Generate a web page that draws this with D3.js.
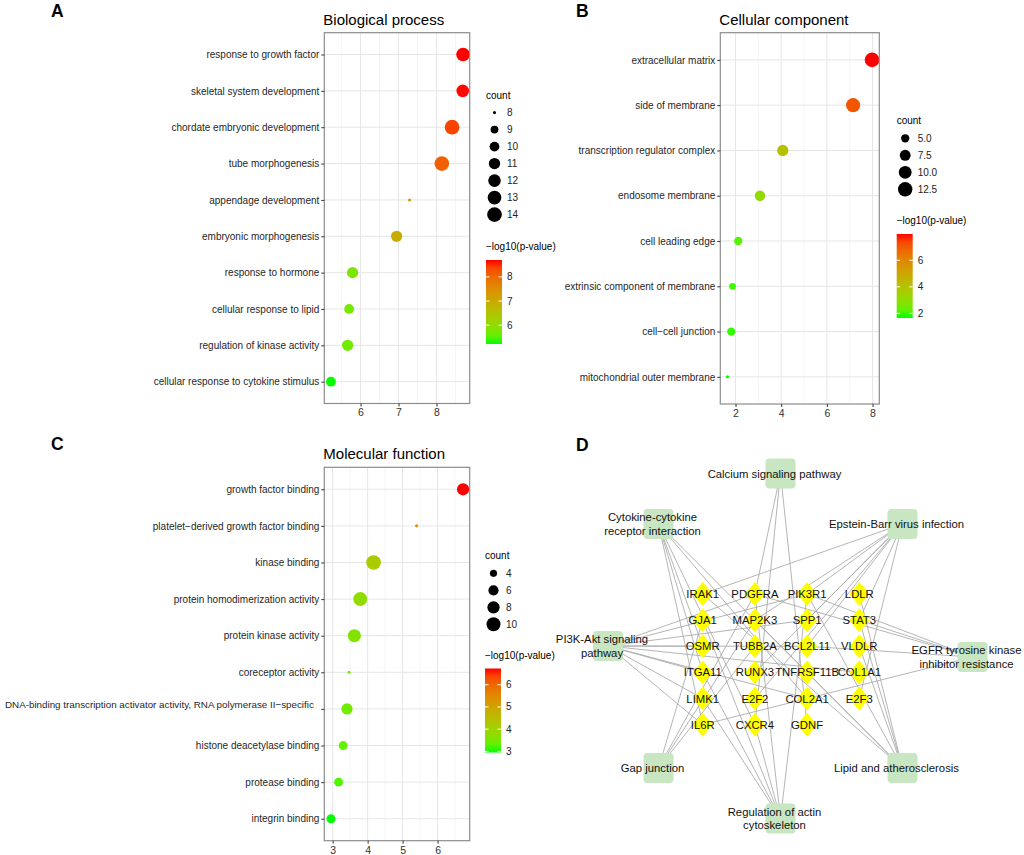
<!DOCTYPE html>
<html>
<head>
<meta charset="utf-8">
<script src="https://cdn.jsdelivr.net/npm/d3@7"></script>
<style>
  body { margin: 0; background: #fff; }
  svg { font-family: "Liberation Sans", Arial, Helvetica, sans-serif; }
</style>
</head>
<body>
<svg id="fig" width="1024" height="855"></svg>
<script>
// ---------- data ----------
// A: biological process
const BP_TERMS = ["response to growth factor", "skeletal system development", "chordate embryonic development",
  "tube morphogenesis", "appendage development", "embryonic morphogenesis", "response to hormone",
  "cellular response to lipid", "regulation of kinase activity", "cellular response to cytokine stimulus"];
const BP_LOGP = [8.70, 8.69, 8.41, 8.14, 7.29, 6.95, 5.79, 5.70, 5.66, 5.22];
const BP_COUNT = [13, 12, 14, 14, 8, 11, 11, 10, 11, 10];
const BP_XTICKS = [6, 7, 8];
const BP_CTICKS = [6, 7, 8];
const BP_SIZE_BREAKS = [8, 9, 10, 11, 12, 13, 14];

// B: cellular component
const CC_TERMS = ["extracellular matrix", "side of membrane", "transcription regulator complex", "endosome membrane",
  "cell leading edge", "extrinsic component of membrane", "cell\u2212cell junction", "mitochondrial outer membrane"];
const CC_LOGP = [7.98, 7.15, 4.07, 3.07, 2.12, 1.87, 1.81, 1.65];
const CC_COUNT = [13, 12, 8, 7, 5, 4, 5, 3];
const CC_XTICKS = [2, 4, 6, 8];
const CC_CTICKS = [2, 4, 6];
const CC_SIZE_BREAKS = [5, 7.5, 10, 12.5];
const CC_SIZE_LABELS = ["5.0", "7.5", "10.0", "12.5"];

// C: molecular function
const MF_TERMS = ["growth factor binding", "platelet\u2212derived growth factor binding", "kinase binding",
  "protein homodimerization activity", "protein kinase activity", "coreceptor activity",
  "DNA-binding transcription activator activity, RNA polymerase II\u2212specific", "histone deacetylase binding",
  "protease binding", "integrin binding"];
const MF_LOGP = [6.73, 5.40, 4.17, 3.79, 3.62, 3.47, 3.41, 3.30, 3.17, 2.95];
const MF_COUNT = [8, 3, 11, 10, 9, 3, 7, 5, 5, 5];
const MF_XTICKS = [3, 4, 5, 6];
const MF_CTICKS = [3, 4, 5, 6];
const MF_SIZE_BREAKS = [4, 6, 8, 10];

// D: pathway - gene network (pathways clockwise from the top)
const PATHWAYS = ["Calcium signaling pathway", "Epstein-Barr virus infection",
  "EGFR tyrosine kinase inhibitor resistance", "Lipid and atherosclerosis", "Regulation of actin cytoskeleton",
  "Gap junction", "PI3K-Akt signaling pathway", "Cytokine-cytokine receptor interaction"];
const PATHWAY_LABELS = [["Calcium signaling pathway"], ["Epstein-Barr virus infection"],
  ["EGFR tyrosine kinase", "inhibitor resistance"], ["Lipid and atherosclerosis"],
  ["Regulation of actin", "cytoskeleton"], ["Gap junction"], ["PI3K-Akt signaling", "pathway"],
  ["Cytokine-cytokine", "receptor interaction"]];
const GENE_GRID = [
  ["IRAK1", "PDGFRA", "PIK3R1", "LDLR"],
  ["GJA1", "MAP2K3", "SPP1", "STAT3"],
  ["OSMR", "TUBB2A", "BCL2L11", "VLDLR"],
  ["ITGA11", "RUNX3", "TNFRSF11B", "COL1A1"],
  ["LIMK1", "E2F2", "COL2A1", "E2F3"],
  ["IL6R", "CXCR4", "GDNF"]
];
const PATHWAY_GENES = [
  ["PDGFRA", "CXCR4", "GDNF"],
  ["IRAK1", "PIK3R1", "MAP2K3", "BCL2L11", "STAT3", "E2F2", "E2F3", "RUNX3", "SPP1"],
  ["PDGFRA", "PIK3R1", "STAT3", "BCL2L11", "IL6R"],
  ["IRAK1", "MAP2K3", "PIK3R1", "LDLR", "STAT3", "VLDLR", "TNFRSF11B"],
  ["PDGFRA", "PIK3R1", "ITGA11", "LIMK1", "CXCR4", "GJA1"],
  ["GJA1", "TUBB2A", "PDGFRA", "MAP2K3"],
  ["PDGFRA", "PIK3R1", "SPP1", "COL1A1", "COL2A1", "ITGA11", "IL6R", "OSMR", "BCL2L11", "LIMK1"],
  ["IL6R", "OSMR", "CXCR4", "TNFRSF11B", "ITGA11", "COL2A1"]
];

// ---------- drawing ----------
const SVG = d3.select("#fig");
SVG.append("rect").attr("width", 1024).attr("height", 855).attr("fill", "#fff");

function panelLetter(txt, x, y) {
  SVG.append("text").attr("x", x).attr("y", y).text(txt)
    .attr("font-size", 17.5).attr("font-weight", "bold").attr("fill", "#000");
}

function drawDotPlot(o) {
  const g = SVG.append("g");
  const xMin = d3.min(o.x), xMax = d3.max(o.x), pad = (xMax - xMin) * 0.05;
  const X = d3.scaleLinear().domain([xMin - pad, xMax + pad]).range([o.left, o.right]);
  const Y = d3.scalePoint().domain(o.terms).range([o.top, o.bottom]).padding(0.6);
  const COLOR = d3.scaleLinear().domain([xMin, xMax]).range(["#00ff00", "#ff0000"]).interpolate(d3.interpolateLab);
  const nMin = d3.min(o.count), nMax = d3.max(o.count);
  const SIZE = d3.scaleLinear().domain([0, 1]).range([1, 6]);
  const R = v => (SIZE(Math.sqrt((v - nMin) / (nMax - nMin))) + 0.33) * 1.16;

  // grid
  const step = o.xticks[1] - o.xticks[0];
  const minor = [];
  for (let t = o.xticks[0] - step / 2; t <= X.domain()[1]; t += step) {
    if (t >= X.domain()[0]) minor.push(t);
  }
  g.selectAll(".minor").data(minor).enter().append("line")
    .attr("x1", d => X(d)).attr("x2", d => X(d)).attr("y1", o.top).attr("y2", o.bottom)
    .attr("stroke", "#f2f2f2").attr("stroke-width", 0.8);
  g.selectAll(".major").data(o.xticks).enter().append("line")
    .attr("x1", d => X(d)).attr("x2", d => X(d)).attr("y1", o.top).attr("y2", o.bottom)
    .attr("stroke", "#e6e6e6").attr("stroke-width", 1);
  g.selectAll(".hgrid").data(o.terms).enter().append("line")
    .attr("x1", o.left).attr("x2", o.right).attr("y1", d => Y(d)).attr("y2", d => Y(d))
    .attr("stroke", "#e6e6e6").attr("stroke-width", 1);

  // points
  g.selectAll(".pt").data(o.terms).enter().append("circle")
    .attr("cx", (d, i) => X(o.x[i])).attr("cy", d => Y(d))
    .attr("r", (d, i) => R(o.count[i])).attr("fill", (d, i) => COLOR(o.x[i]));

  // border
  g.append("rect").attr("x", o.left).attr("y", o.top)
    .attr("width", o.right - o.left).attr("height", o.bottom - o.top)
    .attr("fill", "none").attr("stroke", "#8c8c8c").attr("stroke-width", 1.2);

  // axes
  const ya = g.append("g").attr("transform", `translate(${o.left},0)`)
    .call(d3.axisLeft(Y).tickSize(3).tickPadding(2));
  ya.select(".domain").remove();
  ya.selectAll(".tick line").attr("stroke", "#333");
  ya.selectAll(".tick text").attr("font-size", 10).attr("fill", "#1f1f1f")
    .attr("font-family", "Liberation Sans, Arial, sans-serif");
  if (o.longTerm) {
    ya.selectAll(".tick text").filter(d => d === o.longTerm)
      .attr("x", -10.5).attr("dy", "-0.15em").attr("font-size", 9.8);
  }
  const xa = g.append("g").attr("transform", `translate(0,${o.bottom})`)
    .call(d3.axisBottom(X).tickValues(o.xticks).tickSize(3).tickPadding(2.5).tickFormat(d3.format("d")));
  xa.select(".domain").remove();
  xa.selectAll(".tick line").attr("stroke", "#333");
  xa.selectAll(".tick text").attr("font-size", 10.5).attr("fill", "#333")
    .attr("font-family", "Liberation Sans, Arial, sans-serif");

  // title
  g.append("text").attr("x", o.left - 1).attr("y", o.top - 8).text(o.title)
    .attr("font-size", 15).attr("fill", "#000");

  // size legend
  g.append("text").attr("x", o.lx).attr("y", o.countY).attr("dy", "0.35em").text("count")
    .attr("font-size", 10).attr("fill", "#000");
  o.sizeBreaks.forEach((b, i) => {
    const cy = o.countY + 17.6 + i * 17;
    g.append("circle").attr("cx", o.lx + 8.5).attr("cy", cy).attr("r", R(b)).attr("fill", "#000");
    g.append("text").attr("x", o.lx + 21).attr("y", cy).attr("dy", "0.35em")
      .text(o.sizeLabels ? o.sizeLabels[i] : b).attr("font-size", 10).attr("fill", "#222");
  });

  // colour bar
  const barTop = o.barTop, barBot = o.barTop + 84, bw = 16;
  const CB = d3.scaleLinear().domain([xMin, xMax]).range([barBot, barTop]);
  const gid = "grad" + o.id;
  const grad = SVG.append("defs").append("linearGradient").attr("id", gid)
    .attr("x1", 0).attr("y1", 1).attr("x2", 0).attr("y2", 0);
  d3.range(0, 1.0001, 0.1).forEach(t => {
    grad.append("stop").attr("offset", t).attr("stop-color", COLOR(xMin + t * (xMax - xMin)));
  });
  g.append("text").attr("x", o.lx).attr("y", barTop - 10).text("\u2212log10(p-value)")
    .attr("font-size", 10).attr("fill", "#000");
  g.append("rect").attr("x", o.lx).attr("y", barTop).attr("width", bw).attr("height", barBot - barTop)
    .attr("fill", `url(#${gid})`);
  o.cticks.forEach(t => {
    const y = CB(t);
    g.append("line").attr("x1", o.lx).attr("x2", o.lx + 3.5).attr("y1", y).attr("y2", y)
      .attr("stroke", "#fff").attr("stroke-width", 1);
    g.append("line").attr("x1", o.lx + bw - 3.5).attr("x2", o.lx + bw).attr("y1", y).attr("y2", y)
      .attr("stroke", "#fff").attr("stroke-width", 1);
    g.append("text").attr("x", o.lx + 21).attr("y", y).attr("dy", "0.35em").text(t)
      .attr("font-size", 10).attr("fill", "#222");
  });
}

drawDotPlot({ id: "A", terms: BP_TERMS, x: BP_LOGP, count: BP_COUNT, xticks: BP_XTICKS, cticks: BP_CTICKS,
  sizeBreaks: BP_SIZE_BREAKS, title: "Biological process",
  left: 324.3, right: 469.7, top: 32.7, bottom: 403.5, lx: 486, countY: 95, barTop: 260 });
drawDotPlot({ id: "B", terms: CC_TERMS, x: CC_LOGP, count: CC_COUNT, xticks: CC_XTICKS, cticks: CC_CTICKS,
  sizeBreaks: CC_SIZE_BREAKS, sizeLabels: CC_SIZE_LABELS, title: "Cellular component",
  left: 720.3, right: 879.3, top: 32.7, bottom: 404, lx: 896.7, countY: 120.7, barTop: 234 });
drawDotPlot({ id: "C", terms: MF_TERMS, x: MF_LOGP, count: MF_COUNT, xticks: MF_XTICKS, cticks: MF_CTICKS,
  sizeBreaks: MF_SIZE_BREAKS, title: "Molecular function", longTerm: MF_TERMS[6],
  left: 324.3, right: 469.7, top: 467.3, bottom: 840.7, lx: 485, countY: 555.7, barTop: 668.5 });

panelLetter("A", 51, 17.3);
panelLetter("B", 576, 17.3);
panelLetter("C", 51, 450);
panelLetter("D", 576, 450.7);

// ---------- network ----------
const NET = SVG.append("g").attr("font-size", 11.3).attr("fill", "#111");
const COL = d3.scalePoint().domain(d3.range(4)).range([702.7, 859.3]);
const ROW = d3.scalePoint().domain(d3.range(6)).range([594, 724.7]);
const genePos = {};
GENE_GRID.forEach((row, r) => row.forEach((gname, c) => { genePos[gname] = [COL(c), ROW(r)]; }));

const ANG = d3.scaleLinear().domain([0, PATHWAYS.length]).range([-Math.PI / 2, 1.5 * Math.PI]);
const NET_CX = 780.5, NET_CY = 646, NET_R = 172.5;
const nudge = { "EGFR tyrosine kinase inhibitor resistance": [19.5, 11] };
const pathPos = PATHWAYS.map((p, i) => {
  const a = ANG(i), n = nudge[p] || [0, 0];
  return [NET_CX + NET_R * Math.cos(a) + n[0], NET_CY + NET_R * Math.sin(a) + n[1]];
});

const edges = [];
PATHWAYS.forEach((p, i) => PATHWAY_GENES[i].forEach(gn => edges.push({ s: pathPos[i], t: genePos[gn] })));
NET.selectAll(".edge").data(edges).enter().append("line")
  .attr("x1", d => d.s[0]).attr("y1", d => d.s[1]).attr("x2", d => d.t[0]).attr("y2", d => d.t[1])
  .attr("stroke", "#a8a8a8").attr("stroke-width", 0.85);

const genes = Object.keys(genePos);
NET.selectAll(".gene").data(genes).enter().append("path")
  .attr("d", d => { const [x, y] = genePos[d]; return `M${x},${y - 12}L${x + 10},${y}L${x},${y + 12}L${x - 10},${y}Z`; })
  .attr("fill", "#ffff00");
NET.selectAll(".box").data(PATHWAYS).enter().append("rect")
  .attr("x", (d, i) => pathPos[i][0] - 15).attr("y", (d, i) => pathPos[i][1] - 15)
  .attr("width", 30).attr("height", 30).attr("rx", 4).attr("fill", "#c8e6c2");

NET.selectAll(".glab").data(genes).enter().append("text")
  .attr("x", d => genePos[d][0]).attr("y", d => genePos[d][1]).attr("dy", "0.36em")
  .attr("text-anchor", "middle").text(d => d);
PATHWAYS.forEach((p, i) => {
  const lines = PATHWAY_LABELS[i];
  lines.forEach((ln, k) => {
    NET.append("text").attr("x", pathPos[i][0] - 6)
      .attr("y", pathPos[i][1] + (k - (lines.length - 1) / 2) * 13.4).attr("dy", "0.36em")
      .attr("text-anchor", "middle").text(ln);
  });
});
</script>
</body>
</html>
